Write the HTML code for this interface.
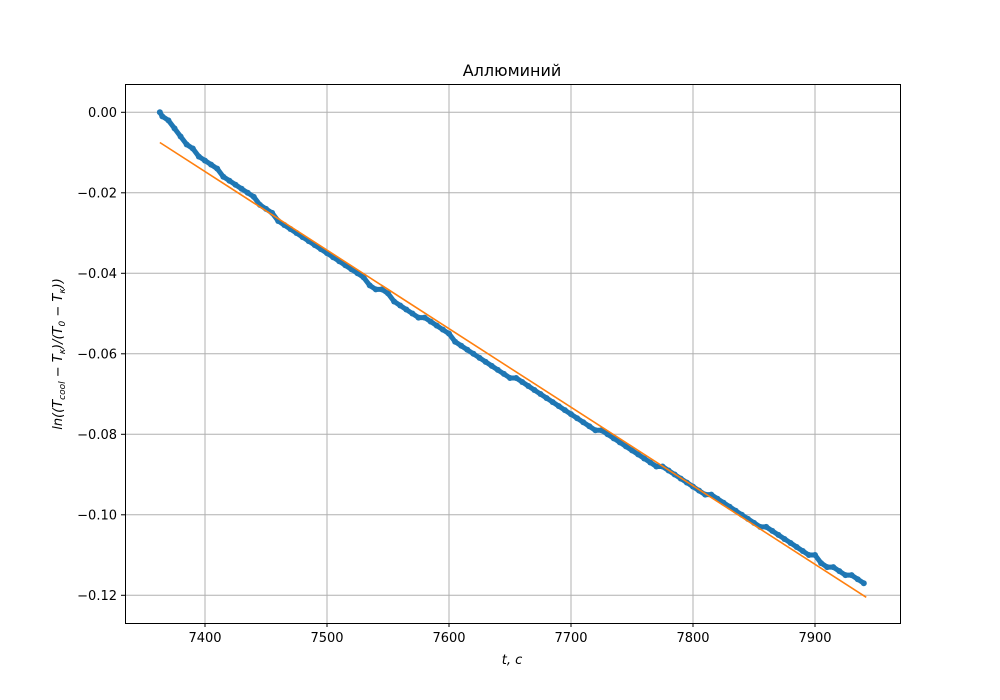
<!DOCTYPE html>
<html><head><meta charset="utf-8"><style>
html,body{margin:0;padding:0;background:#fff;}
svg{display:block;font-family:"DejaVu Sans","Liberation Sans",sans-serif;}
</style></head><body>
<svg id="chart" width="1000" height="700" viewBox="0 0 1000 700" xmlns="http://www.w3.org/2000/svg">
<rect x="0" y="0" width="1000" height="700" fill="#fff"/>
<g id="grid"></g>
<g id="series"></g>
<rect x="125.5" y="84.5" width="775" height="539" fill="none" stroke="#000" stroke-width="1"/>
<g id="axes"></g>
<text x="512" y="76" text-anchor="middle" font-size="16">Аллюминий</text>
<text x="512" y="664" text-anchor="middle" font-size="13" font-style="italic">t, c</text>
<text transform="translate(62,354) rotate(-90)" text-anchor="middle" font-size="13" font-style="italic">ln((T<tspan font-size="9" dy="3">cool</tspan><tspan dy="-3"> − T</tspan><tspan font-size="9" dy="3">κ</tspan><tspan dy="-3">)/(T</tspan><tspan font-size="9" dy="3">0</tspan><tspan dy="-3"> − T</tspan><tspan font-size="9" dy="3">κ</tspan><tspan dy="-3">))</tspan></text>
</svg>
<script>
const times = [7363,7365,7370,7375,7380,7385,7390,7395,7400,7405,7410,7415,7420,7425,7430,7435,7440,7445,7450,7455,7460,7465,7470,7475,7480,7485,7490,7495,7500,7505,7510,7515,7520,7525,7530,7535,7540,7545,7550,7555,7560,7565,7570,7575,7580,7585,7590,7595,7600,7605,7610,7615,7620,7625,7630,7635,7640,7645,7650,7655,7660,7665,7670,7675,7680,7685,7690,7695,7700,7705,7710,7715,7720,7725,7730,7735,7740,7745,7750,7755,7760,7765,7770,7775,7780,7785,7790,7795,7800,7805,7810,7815,7820,7825,7830,7835,7840,7845,7850,7855,7860,7865,7870,7875,7880,7885,7890,7895,7900,7905,7910,7915,7920,7925,7930,7935,7940];
const lnValues = [0.000,-0.001,-0.002,-0.004,-0.006,-0.008,-0.009,-0.011,-0.012,-0.013,-0.014,-0.016,-0.017,-0.018,-0.019,-0.020,-0.021,-0.023,-0.024,-0.025,-0.027,-0.028,-0.029,-0.030,-0.031,-0.032,-0.033,-0.034,-0.035,-0.036,-0.037,-0.038,-0.039,-0.040,-0.041,-0.043,-0.044,-0.044,-0.045,-0.047,-0.048,-0.049,-0.050,-0.051,-0.051,-0.052,-0.053,-0.054,-0.055,-0.057,-0.058,-0.059,-0.060,-0.061,-0.062,-0.063,-0.064,-0.065,-0.066,-0.066,-0.067,-0.068,-0.069,-0.070,-0.071,-0.072,-0.073,-0.074,-0.075,-0.076,-0.077,-0.078,-0.079,-0.079,-0.080,-0.081,-0.082,-0.083,-0.084,-0.085,-0.086,-0.087,-0.088,-0.088,-0.089,-0.090,-0.091,-0.092,-0.093,-0.094,-0.095,-0.095,-0.096,-0.097,-0.098,-0.099,-0.100,-0.101,-0.102,-0.103,-0.103,-0.104,-0.105,-0.106,-0.107,-0.108,-0.109,-0.110,-0.110,-0.112,-0.113,-0.113,-0.114,-0.115,-0.115,-0.116,-0.117];
const fitTimes = [7363,7942];
const fitValues = [-0.0075,-0.1205];
const xTicks = [7400,7500,7600,7700,7800,7900];
const yTicks = [0,-0.02,-0.04,-0.06,-0.08,-0.10,-0.12];
const yTickLabels = ["0.00","−0.02","−0.04","−0.06","−0.08","−0.10","−0.12"];

const NS = "http://www.w3.org/2000/svg";
function xs(t){ return 205 + (t - 7400) * 1.22; }
function ys(v){ return 112.3 + (0 - v) * 4025; }
function mk(tag, attrs, parent){
  const e = document.createElementNS(NS, tag);
  for (const k in attrs) e.setAttribute(k, attrs[k]);
  parent.appendChild(e); return e;
}
const grid = document.getElementById('grid');
const axes = document.getElementById('axes');
const series = document.getElementById('series');

xTicks.forEach(t => {
  const x = xs(t);
  const g = mk('line', {x1:x, x2:x, y1:84, y2:623, stroke:'#b0b0b0', 'stroke-width':1}, grid);
  
  
  const tk = mk('line', {x1:x, x2:x, y1:623, y2:627, stroke:'#000'}, axes);
  
  
  const lb = mk('text', {x:x, y:642, 'text-anchor':'middle', 'font-size':13}, axes);
  lb.textContent = String(t);
  
  
});
yTicks.forEach((v, i) => {
  const y = ys(v);
  const g = mk('line', {x1:125, x2:900, y1:y, y2:y, stroke:'#b0b0b0', 'stroke-width':1}, grid);
  
  
  const tk = mk('line', {x1:121, x2:125, y1:y, y2:y, stroke:'#000'}, axes);
  
  
  const lb = mk('text', {x:117, y:y + 4.5, 'text-anchor':'end', 'font-size':13}, axes);
  lb.textContent = yTickLabels[i];
  
  
});
const band = mk('polyline', {points: times.map((t, i) => xs(t) + ',' + ys(lnValues[i])).join(' '), fill:'none', stroke:'#1f77b4', 'stroke-width':5, 'stroke-linejoin':'round', 'stroke-linecap':'round'}, series);


times.forEach((t, i) => {
  const c = mk('circle', {cx:xs(t), cy:ys(lnValues[i]), r:3, fill:'#1f77b4'}, series);
  
  
});
const fl = mk('line', {x1:xs(fitTimes[0]), y1:ys(fitValues[0]), x2:xs(fitTimes[1]), y2:ys(fitValues[1]), stroke:'#ff7f0e', 'stroke-width':1.6}, series);


</script>
</body></html>
